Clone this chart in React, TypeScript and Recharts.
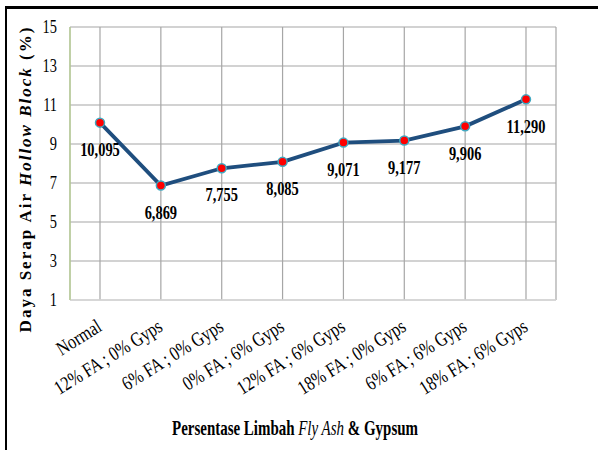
import React from 'react';
import { LineChart, Line, XAxis, YAxis, CartesianGrid, LabelList } from 'recharts';

const categories = [
  'Normal',
  '12% FA ; 0% Gyps',
  '6% FA ; 0% Gyps',
  '0% FA ; 6% Gyps',
  '12% FA ; 6% Gyps',
  '18% FA ; 0% Gyps',
  '6% FA ; 6% Gyps',
  '18% FA ; 6% Gyps',
];
const dayaSerap = [10.095, 6.869, 7.755, 8.085, 9.071, 9.177, 9.906, 11.29];
const yTicks = [1, 3, 5, 7, 9, 11, 13, 15];

const data = categories.map((name, i) => ({ name, value: dayaSerap[i] }));

const SERIF = '"Liberation Serif", "Times New Roman", serif';
const GREEN = '#B9D48F';

const fmt = (v: number) => v.toFixed(3).replace('.', ',');

// the source picture is squeezed sideways, so texts get a horizontal scale
const XTick = (props: any) => {
  const { x, payload } = props;
  return (
    <g transform={`translate(${x + 3},${330})`}>
      <text
        x={0}
        y={0}
        textAnchor="end"
        fontFamily={SERIF}
        fontSize={20}
        fill="#000"
        transform="rotate(-32) scale(0.8 1)"
      >
        {payload.value}
      </text>
    </g>
  );
};

const YTick = (props: any) => {
  const { x, y, payload } = props;
  return (
    <g transform={`translate(${x},${y})`}>
      <text
        x={0}
        y={0}
        textAnchor="end"
        dominantBaseline="central"
        fontFamily={SERIF}
        fontSize={18}
        fill="#000"
        transform="scale(0.8 1)"
      >
        {payload.value}
      </text>
    </g>
  );
};

const ValueLabel = (props: any) => {
  const { x, y, value } = props;
  return (
    <g transform={`translate(${x},${y + 27})`}>
      <text
        x={0}
        y={0}
        textAnchor="middle"
        dominantBaseline="central"
        fontFamily={SERIF}
        fontWeight="bold"
        fontSize={19}
        fill="#000"
        transform="scale(0.76 1)"
      >
        {fmt(Number(value))}
      </text>
    </g>
  );
};

const YTitle = () => (
  <text
    x={25}
    y={179}
    transform="rotate(-90 25 179)"
    textAnchor="middle"
    dominantBaseline="central"
    fontFamily={SERIF}
    fontWeight="bold"
    fontSize={17}
    letterSpacing={2}
    fill="#000"
  >
    Daya Serap Air <tspan fontStyle="italic">Hollow Block</tspan>{'  (%)'}
  </text>
);

const XTitle = () => (
  <g transform="translate(295,427) scale(0.68 1)">
    <text
      x={0}
      y={0}
      textAnchor="middle"
      dominantBaseline="central"
      fontFamily={SERIF}
      fontWeight="bold"
      fontSize={22}
      fill="#000"
    >
      Persentase Limbah <tspan fontStyle="italic" fontWeight="normal">Fly Ash</tspan> &amp; Gypsum
    </text>
  </g>
);

export default function App() {
  return (
    <div style={{ position: 'absolute', left: 0, top: 0, width: 598, height: 450, background: '#fff' }}>
      <div
        style={{
          position: 'absolute',
          left: 5,
          top: 6,
          width: 593,
          height: 444,
          borderTop: '3px solid #000',
          borderLeft: '2px solid #000',
          boxSizing: 'border-box',
        }}
      />
      <div style={{ position: 'absolute', left: 0, top: 0 }}>
        <LineChart width={598} height={450} data={data} margin={{ top: 27, right: 42, left: 0, bottom: 0 }}>
          <CartesianGrid stroke="#A6A6A6" strokeWidth={1.2} />
          <XAxis
            dataKey="name"
            height={150}
            padding={{ left: 30, right: 30 }}
            interval={0}
            tickLine={false}
            axisLine={{ stroke: '#D9D9D9', strokeWidth: 1.5 }}
            tick={(p: any) => <XTick {...p} />}
            label={{ content: () => <XTitle /> }}
          />
          <XAxis
            xAxisId="top"
            dataKey="name"
            orientation="top"
            height={0}
            tick={false}
            tickLine={false}
            axisLine={{ stroke: GREEN, strokeWidth: 1.2 }}
          />
          <YAxis
            domain={[1, 15]}
            ticks={yTicks}
            width={70}
            tickLine={false}
            tickMargin={7}
            axisLine={{ stroke: GREEN, strokeWidth: 1.2 }}
            tick={(p: any) => <YTick {...p} />}
            label={{ content: () => <YTitle /> }}
          />
          <YAxis
            yAxisId="r"
            orientation="right"
            domain={[1, 15]}
            width={0}
            tick={false}
            tickLine={false}
            axisLine={{ stroke: GREEN, strokeWidth: 1.2 }}
          />
          <Line
            type="linear"
            dataKey="value"
            stroke="#1F4E7E"
            strokeWidth={3.8}
            dot={{ r: 4.5, fill: '#FF0000', stroke: '#3FA9C2', strokeWidth: 1.5 }}
            isAnimationActive={false}
          >
            <LabelList dataKey="value" content={(p: any) => <ValueLabel {...p} />} />
          </Line>
        </LineChart>
      </div>
    </div>
  );
}
